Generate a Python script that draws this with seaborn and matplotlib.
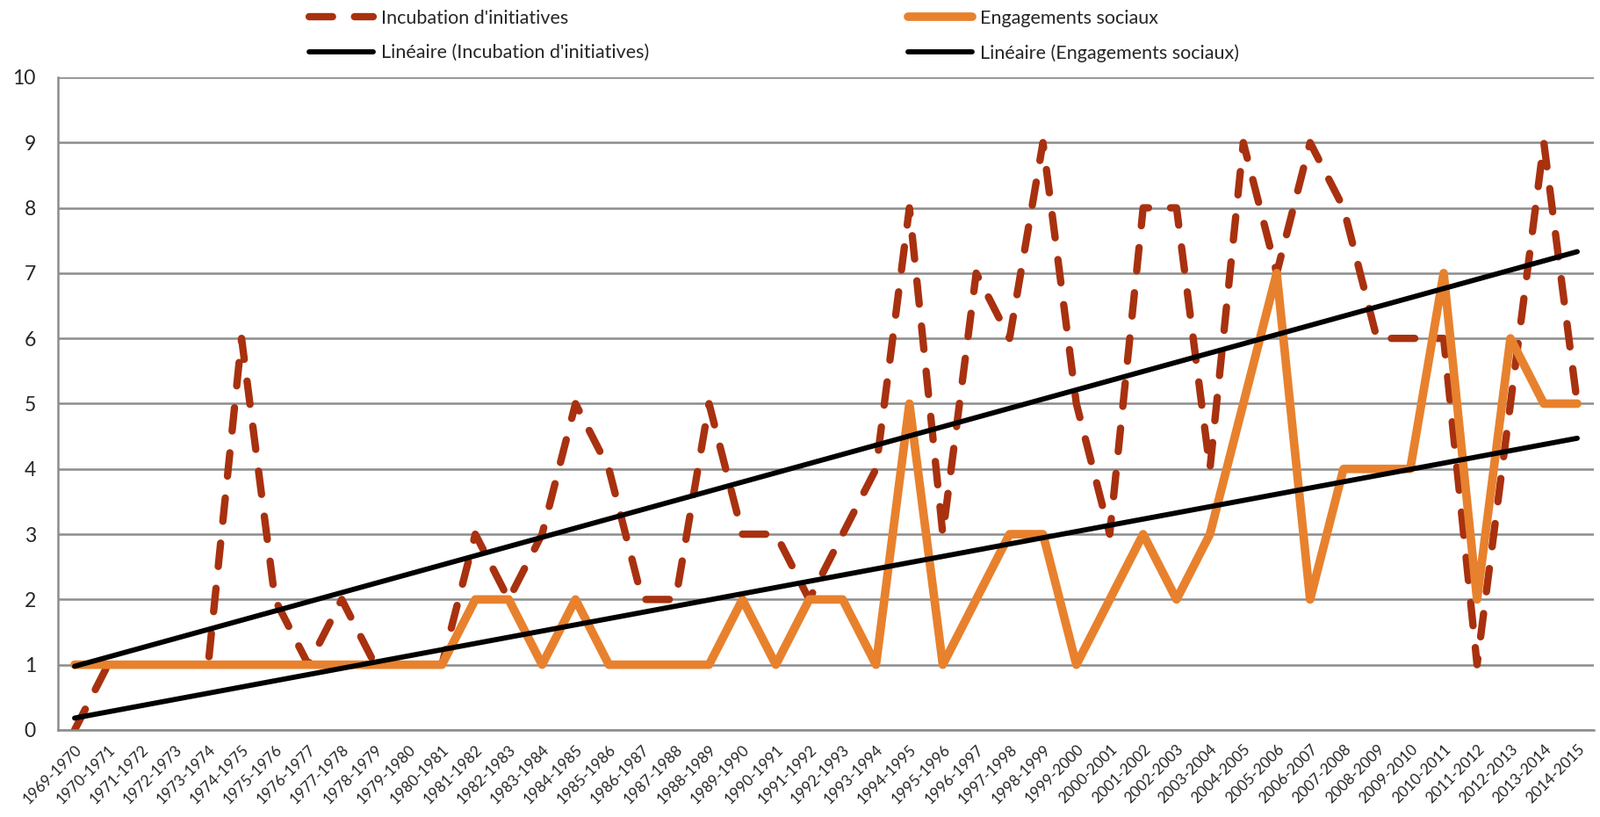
import numpy as np
import pandas as pd
import matplotlib.pyplot as plt
import seaborn as sns

# season labels on the x axis
seasons = ["1969-1970", "1970-1971", "1971-1972", "1972-1973", "1973-1974", "1974-1975",
           "1975-1976", "1976-1977", "1977-1978", "1978-1979", "1979-1980", "1980-1981",
           "1981-1982", "1982-1983", "1983-1984", "1984-1985", "1985-1986", "1986-1987",
           "1987-1988", "1988-1989", "1989-1990", "1990-1991", "1991-1992", "1992-1993",
           "1993-1994", "1994-1995", "1995-1996", "1996-1997", "1997-1998", "1998-1999",
           "1999-2000", "2000-2001", "2001-2002", "2002-2003", "2003-2004", "2004-2005",
           "2005-2006", "2006-2007", "2007-2008", "2008-2009", "2009-2010", "2010-2011",
           "2011-2012", "2012-2013", "2013-2014", "2014-2015"]

incubation = [0, 1, 1, 1, 1, 6, 2, 1, 2, 1, 1, 1,
              3, 2, 3, 5, 4, 2, 2, 5, 3, 3, 2, 3, 4,
              8, 3, 7, 6, 9, 5, 3, 8, 8, 4, 9, 7, 9, 8, 6, 6, 6, 1, 5, 9, 5]
engagements = [1, 1, 1, 1, 1, 1, 1, 1, 1, 1, 1, 1,
               2, 2, 1, 2, 1, 1, 1, 1, 2, 1, 2, 2, 1,
               5, 1, 2, 3, 3, 1, 2, 3, 2, 3, 5, 7, 2, 4, 4, 4, 7, 2, 6, 5, 5]

df = pd.DataFrame({"pos": np.arange(len(seasons)), "inc": incubation, "eng": engagements})

sns.set_style("white")
plt.rcParams["font.family"] = ["Lato", "DejaVu Sans"]

fig = plt.figure(figsize=(18.22, 9.30), dpi=100)
ax = fig.add_axes([0.0362, 0.1065, 0.96, 0.7989])

red = "#A8310F"
orange = "#E8812D"
grey = "#8C8C8C"

# the two series
sns.lineplot(data=df, x="pos", y="inc", ax=ax, color=red, lw=6,
             linestyle=(0, (3.2, 3.0)), dash_capstyle="round", dash_joinstyle="round",
             label="Incubation d'initiatives")
sns.lineplot(data=df, x="pos", y="eng", ax=ax, color=orange, lw=7,
             solid_joinstyle="round", solid_capstyle="round", label="Engagements sociaux")

# linear trendlines
sns.regplot(data=df, x="pos", y="inc", ax=ax, scatter=False, ci=None, color="black",
            line_kws=dict(lw=4.2, solid_capstyle="round"),
            label="Linéaire (Incubation d'initiatives)")
sns.regplot(data=df, x="pos", y="eng", ax=ax, scatter=False, ci=None, color="black",
            line_kws=dict(lw=4.2, solid_capstyle="round"),
            label="Linéaire (Engagements sociaux)")

ax.set_xlim(-0.5, len(seasons) - 0.5)
ax.set_ylim(0, 10)
ax.set_yticks(range(0, 11))
ax.set_xticks(df["pos"])
ax.set_xticklabels(seasons, rotation=45, ha="right", rotation_mode="anchor", fontsize=12.5)
ax.set_xticks(np.arange(-0.5, len(seasons), 1), minor=True)
ax.tick_params(axis="x", which="major", length=0, pad=10)
ax.tick_params(axis="x", which="minor", length=5, width=1.6, color=grey, direction="out")
ax.tick_params(axis="y", length=6, width=1.6, color=grey, labelsize=16.5, pad=12)
ax.set_xlabel("")
ax.set_ylabel("")

ax.yaxis.grid(True, color=grey, lw=1.8)
ax.set_axisbelow(True)
sns.despine(ax=ax, top=True, right=True)
for s in ["left", "bottom"]:
    ax.spines[s].set_color(grey)
    ax.spines[s].set_linewidth(1.8)

# legend in two columns above the plot
handles, labels = ax.get_legend_handles_labels()
order = [0, 2, 1, 3]
if ax.legend_:
    ax.legend_.remove()
fig.legend([handles[i] for i in order], [labels[i] for i in order],
           ncol=2, loc="upper left", bbox_to_anchor=(0.1872, 1.0), frameon=False,
           fontsize=15.5, handlelength=3.4, handletextpad=0.4, columnspacing=13.7,
           labelspacing=0.9, borderaxespad=0.1)

fig.savefig("out.png", dpi=100)
